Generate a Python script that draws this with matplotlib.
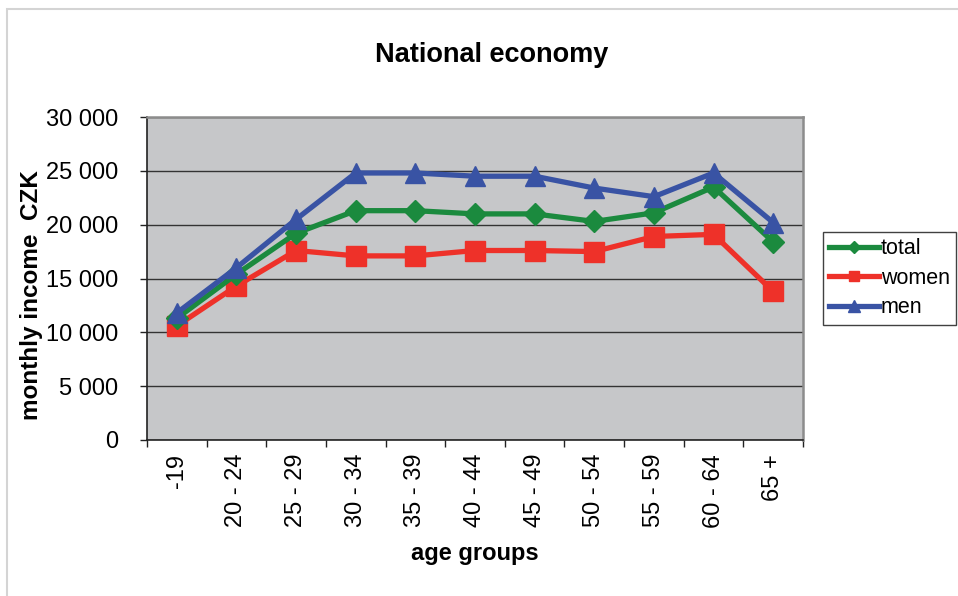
import matplotlib
matplotlib.use("Agg")
import matplotlib.pyplot as plt
import numpy as np
from matplotlib.patches import Rectangle

categories = ["-19", "20 - 24", "25 - 29", "30 - 34", "35 - 39", "40 - 44",
              "45 - 49", "50 - 54", "55 - 59", "60 - 64", "65 +"]
total = [11300, 15400, 19200, 21300, 21300, 21000, 21000, 20300, 21100, 23500, 18400]
women = [10600, 14300, 17600, 17100, 17100, 17600, 17600, 17500, 18900, 19100, 13800]
men = [11800, 16000, 20500, 24800, 24800, 24500, 24500, 23400, 22600, 24800, 20200]
yticks = [0, 5000, 10000, 15000, 20000, 25000, 30000]
ytick_labels = ["0", "5 000", "10 000", "15 000", "20 000", "25 000", "30 000"]

plt.rcParams['font.family'] = ['Liberation Sans', 'DejaVu Sans']

W, H = 958, 596
fig = plt.figure(figsize=(W / 100, H / 100), dpi=100)
fig.patch.set_facecolor("white")
# outer frame (left and top visible)
fig.add_artist(Rectangle((7 / W, -0.05), 1.2, 1 - 8.5 / H + 0.05, transform=fig.transFigure,
                         fill=False, edgecolor="#d4d4d4", linewidth=1.5))

ax = fig.add_axes([147 / W, 1 - 440 / H, 656 / W, 323 / H])
ax.set_facecolor("#c6c7c9")

x = np.arange(len(categories))
ax.plot(x, total, color="#1b8a3e", lw=3.8, marker="D", ms=11, label="total", zorder=3)
ax.plot(x, women, color="#ee3129", lw=3.8, marker="s", ms=14, label="women", zorder=2)
ax.plot(x, men, color="#3953a4", lw=3.8, marker="^", ms=15, label="men", zorder=4)

ax.set_xlim(-0.5, len(categories) - 0.5)
ax.set_ylim(0, 30000)
ax.set_yticks(yticks)
ax.set_yticklabels(ytick_labels)
ax.yaxis.grid(True, color="#333333", lw=1.0)
ax.set_axisbelow(True)

ax.set_xticks(np.arange(-0.5, len(categories), 1.0))
ax.set_xticklabels([])
ax.set_xticks(x, minor=True)
ax.set_xticklabels(categories, minor=True, rotation=90, va="top", ha="center")
ax.tick_params(axis="x", which="minor", length=0, pad=10, labelsize=17)
ax.tick_params(axis="x", which="major", length=5, width=1, color="#222222", direction="out")
ax.tick_params(axis="y", length=5, width=1, color="#222222", pad=16, labelsize=17)

for s in ["top", "right"]:
    ax.spines[s].set_color("#8c8c8c")
    ax.spines[s].set_linewidth(1.8)
for s in ["left", "bottom"]:
    ax.spines[s].set_color("#222222")
    ax.spines[s].set_linewidth(1.2)

ax.set_xlabel("age groups", fontsize=17, fontweight="bold", labelpad=10)
ax.set_ylabel("monthly income  CZK", fontsize=17.5, fontweight="bold", va="center")
ax.yaxis.set_label_coords((32 - 147) / 656, (440 - 295) / 323)
fig.text(492 / W, 1 - 55 / H, "National economy", fontsize=19.5, fontweight="bold",
         ha="center", va="center")

leg = ax.legend(loc="upper left", bbox_to_anchor=(1.03, 0.645), fontsize=15.5,
                frameon=True, fancybox=False, edgecolor="#111111", handlelength=2.3,
                handletextpad=0.1, borderpad=0.3, labelspacing=0.4, markerscale=0.55,
                borderaxespad=0)
leg.get_frame().set_linewidth(1.0)

fig.savefig("out.png", dpi=100)
